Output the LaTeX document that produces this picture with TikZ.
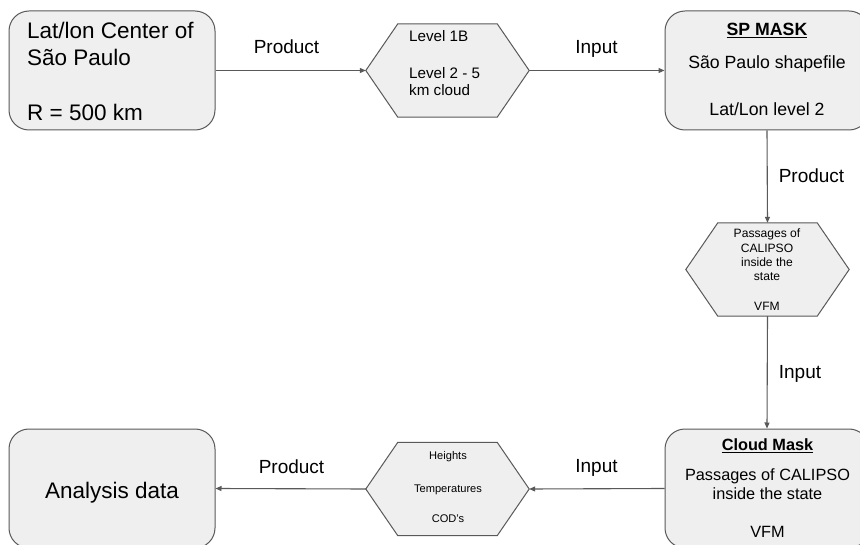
\documentclass[tikz,border=0pt]{standalone}
\usepackage{fontspec}
\setmainfont{Liberation Sans}
\usetikzlibrary{arrows.meta}
\definecolor{edgegray}{HTML}{595959}
\definecolor{boxfill}{HTML}{EFEFEF}
\begin{document}
\begin{tikzpicture}[x=1pt,y=-1pt,
  rbox/.style={draw=edgegray, fill=boxfill, line width=1pt, rounded corners=20pt,
    minimum width=#1, minimum height=119pt, inner sep=0pt},
  hexframe/.style={draw=none, minimum width=163pt, minimum height=93pt, inner sep=0pt},
  hexline/.style={draw=edgegray, fill=boxfill, line width=1pt, line join=miter},
  conn/.style={draw=edgegray, line width=1.1pt, -{Triangle[length=6pt,width=5pt]}},
  big/.style={inner sep=0pt, font=\fontsize{22.5}{27}\selectfont},
  mid/.style={inner sep=0pt, font=\fontsize{17.7}{21}\selectfont},
  midb/.style={inner sep=0pt, font=\fontsize{16.3}{20}\selectfont},
  lvl/.style={inner sep=0pt, font=\fontsize{15.2}{18}\selectfont},
  small/.style={inner sep=0pt, font=\fontsize{12.1}{14}\selectfont},
  tiny/.style={inner sep=0pt, font=\fontsize{11.1}{13}\selectfont},
  lab/.style={inner sep=0pt, font=\fontsize{19}{22}\selectfont, anchor=base},
]
\useasboundingbox (0,0) rectangle (860,545);
\clip (0,0) rectangle (860,545);
\fill[white] (0,0) rectangle (860,545);

% boxes
\node[rbox=206pt] (center) at (112,70.5) {};
\node[rbox=204pt] (spmask) at (767,70.5) {};
\node[rbox=204pt] (cloud) at (767,488.5) {};
\node[rbox=206pt] (analysis) at (112,488.5) {};

% hexagons
\node[hexframe] (lev) at (447.5,70.5) {};
\node[hexframe] (pass) at (767.5,269.5) {};
\node[hexframe] (heights) at (447.5,489) {};
\foreach \h in {lev,pass,heights}{
  \path[hexline] (\h.west) -- ([xshift=32pt]\h.north west) -- ([xshift=-32pt]\h.north east)
    -- (\h.east) -- ([xshift=-32pt]\h.south east) -- ([xshift=32pt]\h.south west) -- cycle;
}

% texts box 1
\node[big, anchor=base west] (t1a) at (27,39) {Lat/lon Center of};
\node[big, anchor=base west] (t1b) at (27,65.7) {São Paulo};
\node[big, anchor=base west] (t1c) at (27,120.7) {R = 500 km};

% texts hex 1
\node[lvl, anchor=base west] (t2a) at (409,41.7) {Level 1B};
\node[lvl, anchor=base west] (t2b) at (409,78.3) {Level 2 - 5};
\node[lvl, anchor=base west] (t2c) at (409,96) {km cloud};

% texts SP mask
\node[mid, anchor=base] (t3a) at (767,36) {\textbf{\underline{SP MASK}}};
\node[mid, anchor=base] (t3b) at (767,68.3) {São Paulo shapefile};
\node[mid, anchor=base] (t3c) at (767,115.7) {Lat/Lon level 2};

% texts hex 2
\node[small, anchor=base] (t4a) at (767,237.3) {Passages of};
\node[small, anchor=base] (t4b) at (767,252.3) {CALIPSO};
\node[small, anchor=base] (t4c) at (767,266.7) {inside the};
\node[small, anchor=base] (t4d) at (767,280.7) {state};
\node[small, anchor=base] (t4e) at (767,311) {VFM};

% texts cloud mask
\node[midb, anchor=base] (t5a) at (767.5,450.7) {\textbf{\underline{Cloud Mask}}};
\node[midb, anchor=base] (t5b) at (767.5,480) {Passages of CALIPSO};
\node[midb, anchor=base] (t5c) at (767.5,499.3) {inside the state};
\node[midb, anchor=base] (t5d) at (767.5,537.7) {VFM};

% texts hex 3
\node[tiny, anchor=base] (t6a) at (448,459) {Heights};
\node[tiny, anchor=base] (t6b) at (448,492.3) {Temperatures};
\node[tiny, anchor=base] (t6c) at (448,522.3) {COD's};

% analysis
\node[big, anchor=base] (t7) at (112,498.3) {Analysis data};

% connectors
\draw[conn] (center.east) -- (lev.west);
\draw[conn] (lev.east) -- (spmask.west);
\draw[conn] (spmask.south) -- (pass.north);
\draw[conn] (pass.south) -- (cloud.north);
\draw[conn] (cloud.west) -- (heights.east);
\draw[conn] (heights.west) -- (analysis.east);

% labels
\node[lab] (l1) at (286.5,54) {Product};
\node[lab] (l2) at (596.5,54) {Input};
\node[lab] (l3) at (811.5,182.7) {Product};
\node[lab] (l4) at (800,379) {Input};
\node[lab] (l5) at (596.5,472.5) {Input};
\node[lab] (l6) at (291.5,473.3) {Product};
\end{tikzpicture}
\end{document}
